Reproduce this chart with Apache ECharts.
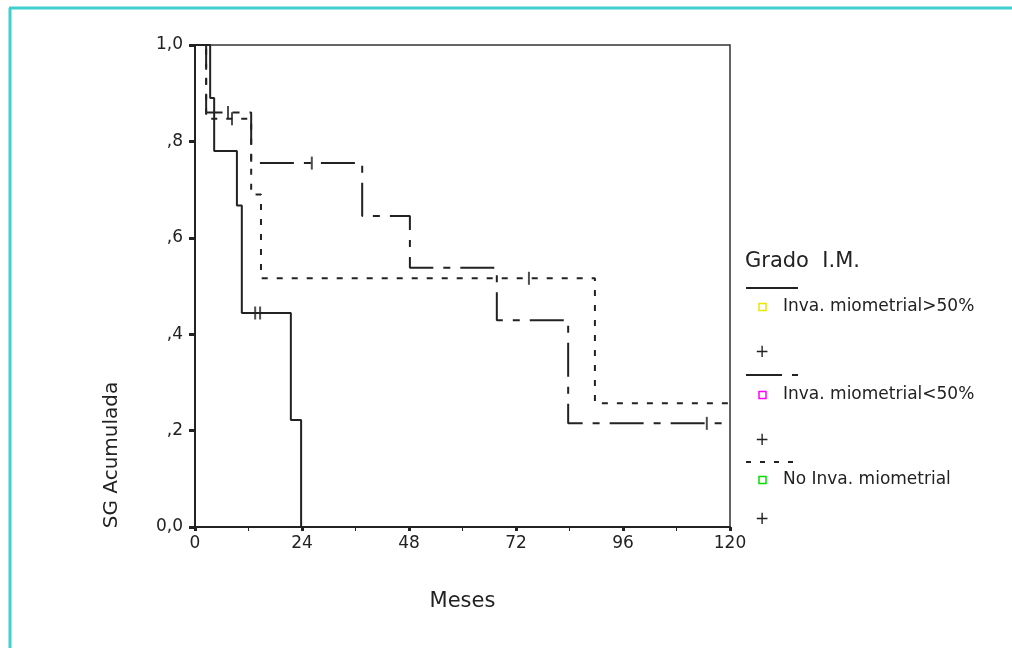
<!DOCTYPE html>
<html>
<head>
<meta charset="utf-8">
<script src="https://cdn.jsdelivr.net/npm/echarts@6/dist/echarts.min.js"></script>
<style>
  html, body { margin: 0; padding: 0; background: #fff; }
  #chart { width: 1012px; height: 648px; }
</style>
</head>
<body>
<div id="chart"></div>
<script>
// Kaplan-Meier steps, months / cumulative survival
const mas50Months = [0, 3.4, 4.3, 9.4, 10.5, 21.5, 23.8];
const mas50Surv   = [1, 0.89, 0.78, 0.667, 0.444, 0.222, 0];
const menos50Months = [0, 2.5, 12.6, 37.5, 48.2, 67.7, 83.7, 120];
const menos50Surv   = [1, 0.86, 0.755, 0.645, 0.538, 0.429, 0.215, 0.215];
const noInvMonths = [0, 2.5, 12.6, 14.8, 89.7, 120];
const noInvSurv   = [1, 0.847, 0.69, 0.516, 0.257, 0.257];

// censored cases (+)
const mas50Cens = [13.5, 14.6];
const menos50Cens = [7.4, 26.2, 114.8];
const noInvCens = [8.3, 74.9];

const xTicks = [0, 24, 48, 72, 96, 120];
const yTickLabels = ['0,0', ',2', ',4', ',6', ',8', '1,0'];
const legendNames = ['Inva. miometrial>50%', 'Inva. miometrial<50%', 'No Inva. miometrial'];

const FONT = 'DejaVu Sans';
const INK = '#222';

function pairs(ts, ss) { return ts.map((t, i) => [t, ss[i]]); }
function survAt(ts, ss, t) {
  let s = ss[0];
  for (let i = 0; i < ts.length; i++) if (ts[i] <= t) s = ss[i];
  return s;
}
function cens(list, ts, ss) { return list.map(t => [t, survAt(ts, ss, t)]); }

const dashDot = [34, 10, 7, 10];
const dotted = [6, 9];

const myChart = echarts.init(document.getElementById('chart'));

const lineSeries = (data, type) => ({
  type: 'line',
  step: 'end',
  data: data,
  symbol: 'none',
  silent: true,
  animation: false,
  lineStyle: { color: INK, width: 2, type: type }
});
const censSeries = (data) => ({
  type: 'scatter',
  data: data,
  symbol: 'rect',
  symbolSize: [2, 13],
  itemStyle: { color: INK },
  animation: false,
  z: 3
});

// legend block on the right
const lx = 746;
const legendY = [307, 395, 480];
const sampleY = [288, 375, 462];
const plusY = [353, 441, 520];
const boxColors = ['#e8e800', '#ff00ff', '#00e000'];
const graphics = [
  // teal page frame
  { type: 'rect', shape: { x: 0, y: 0, width: 1012, height: 9 }, style: { fill: '#fff' }, silent: true },
  { type: 'line', shape: { x1: 9, y1: 8, x2: 1012, y2: 8 }, style: { stroke: '#3fcfcf', lineWidth: 3 } },
  { type: 'line', shape: { x1: 10, y1: 8, x2: 10, y2: 648 }, style: { stroke: '#3fcfcf', lineWidth: 3 } },
  { type: 'text', x: 112, y: 455, rotation: Math.PI / 2,
    style: { text: 'SG Acumulada', font: '20px "' + FONT + '"', fill: INK, align: 'center', verticalAlign: 'middle' } },
  { type: 'text', x: lx - 1, y: 262,
    style: { text: 'Grado  I.M.', font: '21px "' + FONT + '"', fill: INK, verticalAlign: 'middle' } },
  { type: 'line', shape: { x1: lx, y1: sampleY[0], x2: lx + 52, y2: sampleY[0] }, style: { stroke: INK, lineWidth: 2 } },
  { type: 'line', shape: { x1: lx, y1: sampleY[1], x2: lx + 52, y2: sampleY[1] }, style: { stroke: INK, lineWidth: 2, lineDash: [36, 10, 6, 10] } },
  { type: 'line', shape: { x1: lx, y1: sampleY[2], x2: lx + 52, y2: sampleY[2] }, style: { stroke: INK, lineWidth: 2, lineDash: [5, 9] } }
];
legendNames.forEach((name, i) => {
  graphics.push({ type: 'rect', shape: { x: 759, y: legendY[i] - 3.5, width: 7, height: 7 },
    style: { fill: 'transparent', stroke: boxColors[i], lineWidth: 1.5 } });
  graphics.push({ type: 'text', x: 783, y: legendY[i],
    style: { text: name, font: '17px "' + FONT + '"', fill: INK, verticalAlign: 'middle' } });
  graphics.push({ type: 'text', x: 762, y: plusY[i],
    style: { text: '+', font: '17px "' + FONT + '"', fill: INK, align: 'center', verticalAlign: 'middle' } });
});

const option = {
  backgroundColor: '#fff',
  animation: false,
  grid: {
    left: 195, right: 282, top: 45, bottom: 121,
    show: true, borderColor: '#333', borderWidth: 1.5, backgroundColor: 'transparent'
  },
  xAxis: {
    type: 'value', min: 0, max: 120, interval: 24,
    name: 'Meses', nameLocation: 'middle', nameGap: 64,
    nameTextStyle: { fontFamily: FONT, fontSize: 21, color: INK },
    axisLine: { lineStyle: { color: INK, width: 2 } },
    axisTick: { length: 4, lineStyle: { color: INK, width: 3 } },
    minorTick: { show: true, splitNumber: 2, length: 4, lineStyle: { color: INK, width: 1 } },
    axisLabel: { fontFamily: FONT, fontSize: 17, color: INK, margin: 8,
      formatter: v => xTicks.indexOf(v) >= 0 ? String(v) : '' },
    splitLine: { show: false }
  },
  yAxis: {
    type: 'value', min: 0, max: 1, interval: 0.2,
    axisLine: { lineStyle: { color: INK, width: 2 } },
    axisTick: { length: 6, lineStyle: { color: INK, width: 3 } },
    axisLabel: { fontFamily: FONT, fontSize: 17, color: INK, margin: 12,
      formatter: v => yTickLabels[Math.round(v * 5)] },
    splitLine: { show: false }
  },
  series: [
    lineSeries(pairs(mas50Months, mas50Surv), 'solid'),
    lineSeries(pairs(menos50Months, menos50Surv), dashDot),
    lineSeries(pairs(noInvMonths, noInvSurv), dotted),
    censSeries(cens(mas50Cens, mas50Months, mas50Surv)),
    censSeries(cens(menos50Cens, menos50Months, menos50Surv)),
    censSeries(cens(noInvCens, noInvMonths, noInvSurv))
  ],
  graphic: graphics
};
myChart.setOption(option);
</script>
</body>
</html>
